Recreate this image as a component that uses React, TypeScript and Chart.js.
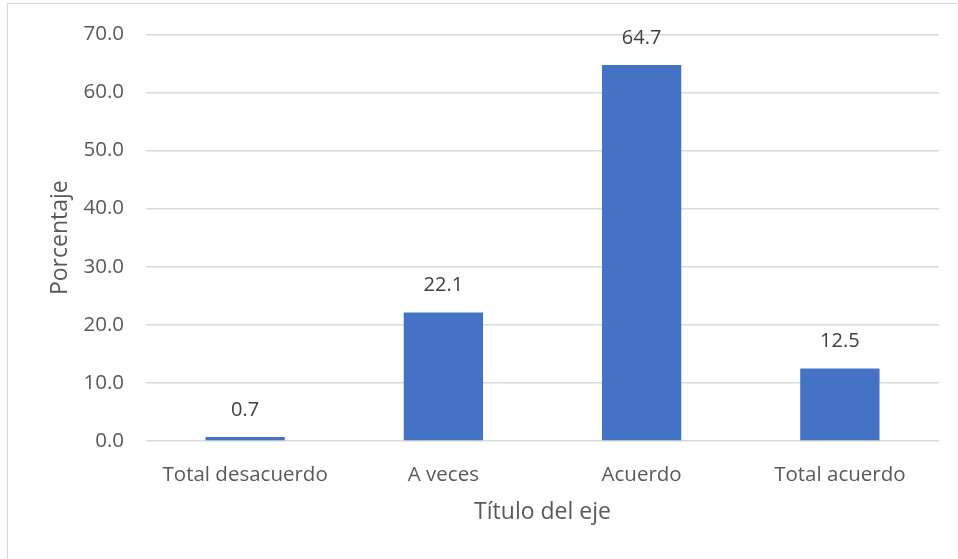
import React, { useEffect, useRef } from "react";
import { Chart, registerables } from "chart.js";

Chart.register(...registerables);

const categories = ["Total desacuerdo", "A veces", "Acuerdo", "Total acuerdo"];
const values = [0.7, 22.1, 64.7, 12.5];
const yTicks = [0, 10, 20, 30, 40, 50, 60, 70];
const xTitle = "Título del eje";
const yTitle = "Porcentaje";

const FONT = "'Open Sans', 'Noto Sans', sans-serif";

const labelPlugin = {
  id: "barLabels",
  afterDatasetsDraw(chart: any) {
    const ctx = chart.ctx;
    const meta = chart.getDatasetMeta(0);
    ctx.save();
    ctx.font = `20px ${FONT}`;
    ctx.fillStyle = "#404040";
    ctx.textAlign = "center";
    ctx.textBaseline = "middle";
    meta.data.forEach((bar: any, i: number) => {
      ctx.fillText(values[i].toFixed(1), bar.x, bar.y - 27);
    });
    ctx.restore();
  },
};

export default function App() {
  const ref = useRef<HTMLCanvasElement | null>(null);
  useEffect(() => {
    if (!ref.current) return;
    const chart = new Chart(ref.current, {
      type: "bar",
      data: {
        labels: categories,
        datasets: [
          {
            data: values,
            backgroundColor: "#4472C4",
            barPercentage: 1,
            categoryPercentage: 0.4,
          },
        ],
      },
      options: {
        animation: false,
        responsive: true,
        maintainAspectRatio: false,
        layout: { padding: { left: 0, right: 19, top: 33, bottom: 0 } },
        plugins: { legend: { display: false }, tooltip: { enabled: false } },
        scales: {
          x: {
            grid: { display: false },
            border: { display: false },
            ticks: { color: "#595959", font: { family: FONT, size: 20.5 }, padding: 14, maxRotation: 0 },
            title: {
              display: true,
              text: xTitle,
              color: "#595959",
              font: { family: FONT, size: 23 },
              padding: { top: 0, bottom: 33 },
            },
            afterFit: (s: any) => {
              s.height = 118;
            },
          },
          y: {
            min: 0,
            max: 70,
            afterBuildTicks: (s: any) => {
              s.ticks = yTicks.map((v) => ({ value: v }));
            },
            grid: { color: "#d9d9d9", lineWidth: 1.5, drawTicks: false },
            border: { display: false },
            ticks: {
              color: "#595959",
              font: { family: FONT, size: 20.5 },
              padding: 22,
              callback: (v: any) => Number(v).toFixed(1),
            },
            title: {
              display: true,
              text: yTitle,
              color: "#595959",
              font: { family: FONT, size: 23 },
              padding: { top: 47, bottom: 0 },
            },
            afterFit: (s: any) => {
              s.width = 146;
            },
          },
        },
      },
      plugins: [labelPlugin],
    });
    return () => chart.destroy();
  }, []);

  return (
    <div style={{ position: "fixed", left: 0, top: 0, width: 958, height: 559, overflow: "hidden", background: "#fff" }}>
      <div
        style={{
          position: "absolute",
          left: 7,
          top: 3,
          width: 1000,
          height: 600,
          border: "1.5px solid #d9d9d9",
          boxSizing: "border-box",
        }}
      />
      <div style={{ position: "absolute", left: 0, top: 0, width: 958, height: 559 }}>
        <canvas ref={ref} />
      </div>
    </div>
  );
}
